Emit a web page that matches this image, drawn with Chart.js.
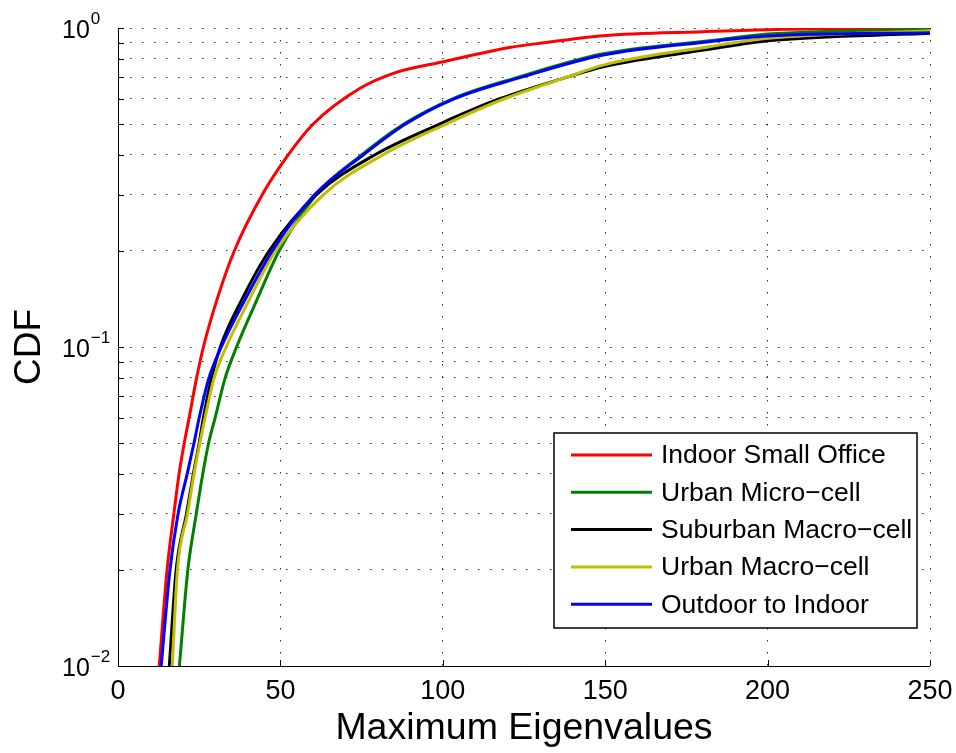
<!DOCTYPE html>
<html>
<head>
<meta charset="utf-8">
<script src="https://cdn.jsdelivr.net/npm/chart.js@4.4.1/dist/chart.umd.min.js"></script>
<style>
  html, body { margin: 0; padding: 0; background: #fff; }
  #contenedor { width: 956px; height: 753px; }
</style>
</head>
<body>
<div id="contenedor"><canvas id="grafico" width="956" height="753"></canvas></div>
<script>
// valores (x = autovalor maximo, y = CDF)
const oficinaX = [12.7, 15.1, 17.2, 18.8, 20.4, 21.9, 24.2, 26.3, 30.4, 35.8, 44.4, 52.4, 60.1, 74.5, 84.8, 100.2, 121.0, 131.6, 149.4, 180.0, 200.0, 250.0];
const oficinaY = [0.01, 0.02, 0.03, 0.04, 0.05, 0.06, 0.08, 0.1, 0.14, 0.2, 0.3, 0.4, 0.5, 0.647, 0.721, 0.784, 0.87, 0.9, 0.946, 0.974, 0.988, 0.998];

const microX = [18.9, 21.5, 24.1, 26.1, 27.9, 29.9, 33.0, 36.5, 42.7, 49.6, 61.0, 75.0, 88.0, 103.0, 123.0, 149.4, 182.0, 200.0, 250.0];
const microY = [0.01, 0.02, 0.03, 0.04, 0.05, 0.06, 0.08, 0.1, 0.14, 0.2, 0.3, 0.4, 0.5, 0.6, 0.7, 0.83, 0.912, 0.957, 0.99];

const suburbanoX = [15.8, 17.9, 21.1, 23.2, 25.0, 26.3, 28.8, 31.5, 38.0, 46.5, 61.0, 79.0, 99.0, 117.5, 138.0, 149.4, 182.0, 200.0, 250.0];
const suburbanoY = [0.01, 0.02, 0.03, 0.04, 0.05, 0.06, 0.08, 0.1, 0.14, 0.2, 0.3, 0.4, 0.5, 0.6, 0.7, 0.756, 0.857, 0.912, 0.962];

const macroX = [16.7, 18.3, 21.4, 23.4, 25.2, 26.8, 29.6, 33.3, 40.3, 48.5, 63.2, 81.5, 101.0, 119.0, 138.0, 149.4, 182.0, 200.0, 250.0];
const macroY = [0.01, 0.02, 0.03, 0.04, 0.05, 0.06, 0.08, 0.1, 0.14, 0.2, 0.3, 0.4, 0.5, 0.6, 0.7, 0.765, 0.874, 0.928, 0.98];

const exteriorX = [13.3, 16.0, 18.5, 21.3, 23.4, 25.0, 28.0, 31.8, 39.0, 47.5, 60.5, 75.5, 88.5, 103.5, 124.0, 149.4, 182.0, 200.0, 250.0];
const exteriorY = [0.01, 0.02, 0.03, 0.04, 0.05, 0.06, 0.08, 0.1, 0.14, 0.2, 0.3, 0.4, 0.5, 0.6, 0.7, 0.823, 0.906, 0.944, 0.967];

const etiquetas = ["Indoor Small Office", "Urban Micro\u2212cell", "Suburban Macro\u2212cell", "Urban Macro\u2212cell", "Outdoor to Indoor"];

const xTicks = [0, 50, 100, 150, 200, 250];
const yTicks = [0.01, 0.02, 0.03, 0.04, 0.05, 0.06, 0.07, 0.08, 0.09,
                0.1, 0.2, 0.3, 0.4, 0.5, 0.6, 0.7, 0.8, 0.9, 1];
const yDecadas = [1, 0.1, 0.01];
const yExponentes = ["0", "\u22121", "\u22122"];

const FUENTE = '"Liberation Sans", Arial, Helvetica, sans-serif';

function puntos(xs, ys) {
    return xs.map((x, i) => ({ x: x, y: ys[i] }));
}

function serie(label, xs, ys, color, orden) {
    return {
        label: label,
        data: puntos(xs, ys),
        borderColor: color,
        backgroundColor: color,
        borderWidth: 3,
        pointRadius: 0,
        fill: false,
        cubicInterpolationMode: 'monotone',
        order: orden
    };
}

// ejes, marcas hacia adentro, etiquetas 10^n y leyenda
const extras = {
    id: 'extras',
    afterDatasetsDraw(chart) {
        const ctx = chart.ctx;
        const area = chart.chartArea;
        const sx = chart.scales.x;
        const sy = chart.scales.y;
        ctx.save();
        ctx.strokeStyle = '#000';
        ctx.lineWidth = 1;
        ctx.beginPath();
        ctx.moveTo(area.left + 0.5, area.top);
        ctx.lineTo(area.left + 0.5, area.bottom + 0.5);
        ctx.lineTo(area.right, area.bottom + 0.5);
        yTicks.forEach(v => {
            const py = Math.round(sy.getPixelForValue(v)) + 0.5;
            ctx.moveTo(area.left, py);
            ctx.lineTo(area.left + 6, py);
        });
        xTicks.forEach(v => {
            const px = Math.round(sx.getPixelForValue(v)) + 0.5;
            ctx.moveTo(px, area.bottom);
            ctx.lineTo(px, area.bottom - 6);
        });
        ctx.stroke();

        // etiquetas del eje y
        ctx.fillStyle = '#000';
        ctx.textAlign = 'left';
        ctx.textBaseline = 'alphabetic';
        yDecadas.forEach((v, i) => {
            const py = sy.getPixelForValue(v);
            ctx.font = '25px ' + FUENTE;
            ctx.fillText('10', 62, py + 10);
            const w = ctx.measureText('10').width;
            ctx.font = '17px ' + FUENTE;
            ctx.fillText(yExponentes[i], 62 + w + 1, py - 4);
        });

        // leyenda
        const lx = 554, ly = 433, lw = 363, lh = 195;
        ctx.fillStyle = '#fff';
        ctx.fillRect(lx, ly, lw, lh);
        ctx.strokeStyle = '#000';
        ctx.lineWidth = 1.5;
        ctx.strokeRect(lx, ly, lw, lh);
        ctx.font = '26.5px ' + FUENTE;
        ctx.textBaseline = 'middle';
        chart.data.datasets.forEach((ds, i) => {
            const ry = ly + 22 + i * 37.3;
            ctx.strokeStyle = ds.borderColor;
            ctx.lineWidth = 3;
            ctx.beginPath();
            ctx.moveTo(571, ry);
            ctx.lineTo(652, ry);
            ctx.stroke();
            ctx.fillStyle = '#000';
            ctx.fillText(ds.label, 661, ry + 1);
        });
        ctx.restore();
    }
};

const ctx = document.getElementById("grafico").getContext("2d");

window.miGrafico = new Chart(ctx, {
    type: 'line',
    data: {
        datasets: [
            serie(etiquetas[0], oficinaX, oficinaY, '#ff0000', 5),
            serie(etiquetas[1], microX, microY, '#008000', 4),
            serie(etiquetas[2], suburbanoX, suburbanoY, '#000000', 3),
            serie(etiquetas[3], macroX, macroY, '#bfbf00', 2),
            serie(etiquetas[4], exteriorX, exteriorY, '#0000ff', 1)
        ]
    },
    options: {
        responsive: false,
        animation: false,
        devicePixelRatio: 1,
        layout: { padding: { top: 28, right: 26, left: 0, bottom: 0 } },
        plugins: {
            legend: { display: false },
            tooltip: { enabled: false }
        },
        scales: {
            x: {
                type: 'linear',
                min: 0,
                max: 250,
                afterBuildTicks: s => { s.ticks = xTicks.map(v => ({ value: v })); },
                afterFit: s => { s.height = 87; s.paddingLeft = 0; s.paddingRight = 0; },
                ticks: { color: '#000', font: { family: FUENTE, size: 27 }, padding: 9 },
                grid: { color: 'rgba(0,0,0,0.8)', lineWidth: 1, drawTicks: false },
                border: { display: false, dash: [1.5, 10.5] },
                title: {
                    display: true,
                    text: 'Maximum Eigenvalues',
                    color: '#000',
                    font: { family: FUENTE, size: 37.5 },
                    padding: { top: 0, bottom: 2 }
                }
            },
            y: {
                type: 'logarithmic',
                min: 0.01,
                max: 1,
                afterBuildTicks: s => { s.ticks = yTicks.map(v => ({ value: v })); },
                afterFit: s => { s.width = 118; s.paddingTop = 0; s.paddingBottom = 0; },
                ticks: { display: false },
                grid: { color: 'rgba(0,0,0,0.8)', lineWidth: 1, drawTicks: false },
                border: { display: false, dash: [1.5, 10.5] },
                title: {
                    display: true,
                    text: 'CDF',
                    color: '#000',
                    font: { family: FUENTE, size: 37 },
                    padding: { top: 8, bottom: 0 }
                }
            }
        }
    },
    plugins: [extras]
});
</script>
</body>
</html>
